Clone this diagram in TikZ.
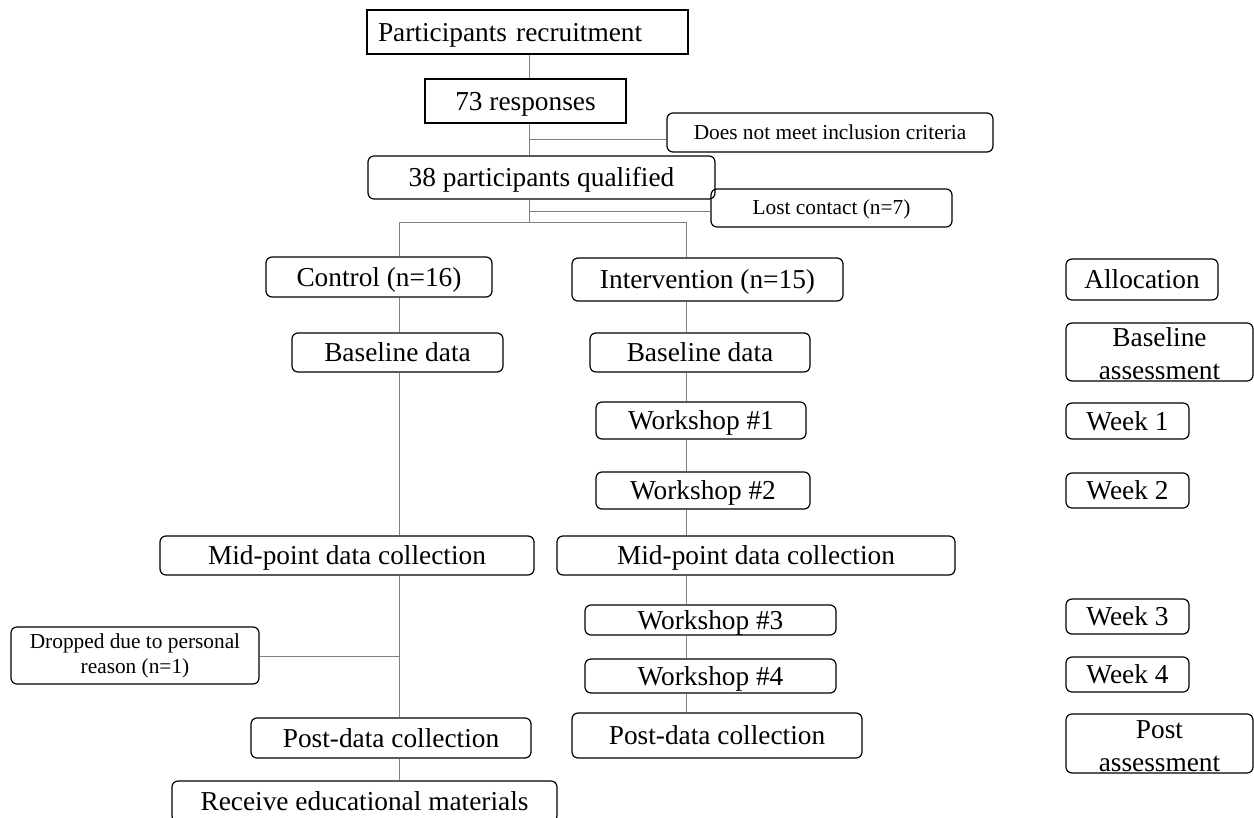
\documentclass[tikz,border=0pt]{standalone}
\usepackage{fontspec}
\setmainfont{Liberation Serif}
\usepackage{tikz}
\usetikzlibrary{positioning}
\usepackage{xcolor}
\definecolor{LineGray}{HTML}{808080}

\begin{document}
\begin{tikzpicture}[x=0.75pt,y=-0.75pt,
    frame/.style={draw=black,line width=0.9pt,rounded corners=4.5pt,inner sep=1pt,
      font=\fontsize{20.5}{25}\selectfont},
    box/.style={frame,text height=13.5pt,text depth=0pt},
    sqbox/.style={box,rounded corners=0pt},
    small/.style={font=\fontsize{16}{18.75}\selectfont,text height=10pt},
    twoline/.style={frame,align=center,inner ysep=0pt,font=\fontsize{20.5}{25.2}\selectfont},
    link/.style={draw=LineGray,line width=0.75pt}]

    \useasboundingbox (0,0) rectangle (1254,818);

    % x positions of the vertical lines
    \coordinate (trunk) at (529,0);
    \coordinate (ctl) at (399,0);
    \coordinate (itv) at (686,0);

    % screening
    \node[sqbox,minimum width=240.75pt,minimum height=33pt,text width=224.25pt,
      align=left,inner xsep=8.25pt] (recruit) at (527.5,32) {Participants recruitment};
    \node[sqbox,minimum width=150.75pt,minimum height=33pt] (resp) at (525.5,101) {73 responses};
    \node[box,small,minimum width=244.5pt,minimum height=29.25pt] (excl) at (830,132.5)
      {Does not meet inclusion criteria};
    \node[box,minimum width=260.25pt,minimum height=32.25pt] (qual) at (541.5,177.5)
      {38 participants qualified};
    \node[box,small,minimum width=180.75pt,minimum height=28.5pt] (lost) at (831.5,208)
      {Lost contact (n=7)};

    % control arm
    \node[box,minimum width=169.5pt,minimum height=30pt] (ctrl) at (379,277) {Control (n=16)};
    \node[box,minimum width=158.25pt,minimum height=29.25pt] (cbase) at (397.5,352.5) {Baseline data};
    \node[box,minimum width=280.5pt,minimum height=29.25pt] (cmid) at (347,555.5) {Mid-point data collection};
    \node[frame,font=\fontsize{16}{18.75}\selectfont,minimum width=186pt,minimum height=42.75pt,
      align=center] (drop) at (135,655.5) {Dropped due to personal\\reason (n=1)};
    \node[box,minimum width=210pt,minimum height=30pt] (cpost) at (391,738) {Post-data collection};
    \node[box,minimum width=288.75pt,minimum height=30.75pt] (recv) at (364.5,801.5)
      {Receive educational materials};

    % intervention arm
    \node[box,minimum width=203.25pt,minimum height=32.25pt] (intv) at (707.5,279.5) {Intervention (n=15)};
    \node[box,minimum width=165pt,minimum height=29.25pt] (ibase) at (700,352.5) {Baseline data};
    \node[box,minimum width=157.5pt,minimum height=27.75pt] (ws1) at (701,420.5) {Workshop \#1};
    \node[box,minimum width=160.5pt,minimum height=27.75pt] (ws2) at (703,490.5) {Workshop \#2};
    \node[box,minimum width=298.5pt,minimum height=29.25pt] (imid) at (756,555.5) {Mid-point data collection};
    \node[box,minimum width=188.25pt,minimum height=22.5pt,inner ysep=0pt] (ws3) at (710.5,620) {Workshop \#3};
    \node[box,minimum width=188.25pt,minimum height=25.5pt,inner ysep=0pt] (ws4) at (710.5,676) {Workshop \#4};
    \node[box,minimum width=217.5pt,minimum height=33.75pt] (ipost) at (717,735.5) {Post-data collection};

    % timeline
    \node[box,minimum width=114pt,minimum height=30.75pt] (alloc) at (1142,279.5) {Allocation};
    \node[twoline,minimum width=140.25pt,minimum height=43.5pt] (basas) at (1159.5,352)
      {\rule{0pt}{16.5pt}Baseline\\assessment};
    \node[box,minimum width=92.25pt,minimum height=27pt] (wk1) at (1127.5,421) {Week 1};
    \node[box,minimum width=92.25pt,minimum height=26.25pt] (wk2) at (1127.5,490.5) {Week 2};
    \node[box,minimum width=92.25pt,minimum height=26.25pt] (wk3) at (1127.5,616.5) {Week 3};
    \node[box,minimum width=92.25pt,minimum height=26.25pt] (wk4) at (1127.5,674.5) {Week 4};
    \node[twoline,minimum width=140.25pt,minimum height=44.25pt] (pstas) at (1159.5,743.5)
      {\rule{0pt}{17.5pt}Post\\assessment};

    % joins on the lines
    \coordinate (exclJoin) at (529,139);
    \coordinate (lostJoin) at (529,211);
    \coordinate (split) at (529,222);
    \coordinate (dropJoin) at (399,656);

    % screening lines
    \draw[link] (recruit.south -| trunk) -- (resp.north -| trunk);
    \draw[link] (resp.south -| trunk) -- (qual.north -| trunk);
    \draw[link] (exclJoin) -- (exclJoin -| excl.west);
    \draw[link] (qual.south -| trunk) -- (split);
    \draw[link] (lostJoin) -- (lostJoin -| lost.west);
    \draw[link] (split -| ctl) -- (split -| itv);
    \draw[link] (split -| ctl) -- (ctrl.north -| ctl);
    \draw[link] (split -| itv) -- (intv.north -| itv);

    % arm lines
    \foreach \a/\b in {ctrl/cbase,cbase/cmid,cmid/cpost,cpost/recv}
      \draw[link] (\a.south -| ctl) -- (\b.north -| ctl);
    \foreach \a/\b in {intv/ibase,ibase/ws1,ws1/ws2,ws2/imid,imid/ws3,ws3/ws4,ws4/ipost}
      \draw[link] (\a.south -| itv) -- (\b.north -| itv);
    \draw[link] (drop.east |- dropJoin) -- (dropJoin);
  \end{tikzpicture}
\end{document}
